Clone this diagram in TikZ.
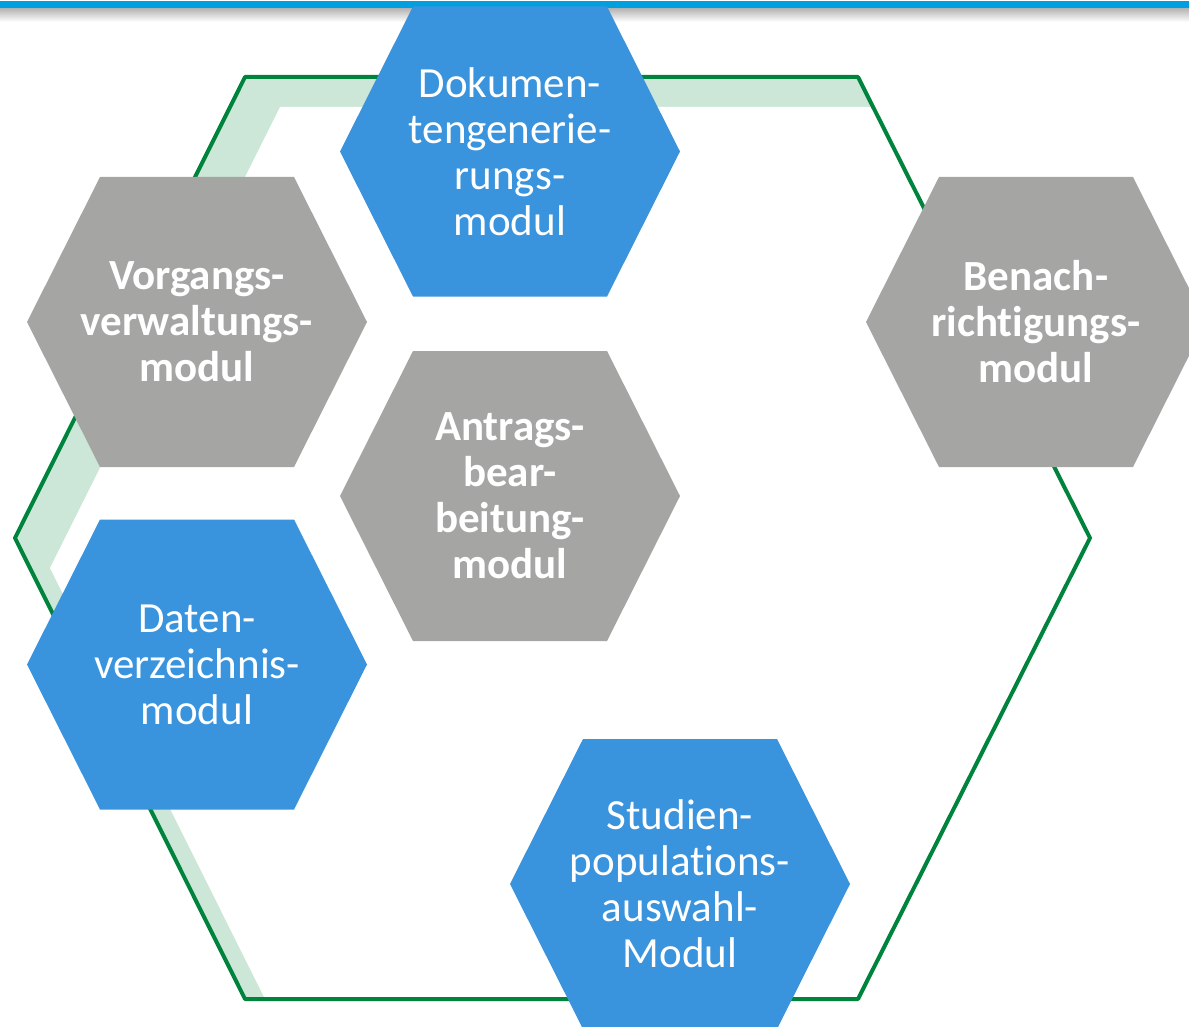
\documentclass[tikz,border=0pt]{standalone}
\usepackage{fontspec}
\setmainfont{Carlito}[Ligatures=CommonOff]
\definecolor{modblue}{RGB}{57,147,221}
\definecolor{modgray}{RGB}{165,166,164}
\definecolor{ringgreen}{RGB}{0,132,61}
\definecolor{ringshade}{RGB}{204,230,215}
\definecolor{barblue}{RGB}{0,159,223}

\begin{document}
\begin{tikzpicture}[x=1pt, y=-1pt,
		modtext/.style={text=white, align=center, font=\fontsize{43}{46}\selectfont},
		boldtext/.style={text=white, align=center, font=\fontsize{43}{46}\selectfont\bfseries}]
			\useasboundingbox (0,0) rectangle (1189,1027);
			\begin{scope}
			\clip (0,0) rectangle (1189,1027);
			% Top bar
			\foreach \i [evaluate=\i as \op using 0.3*(1-\i/14)] in {0,...,13} {
				\fill[black, fill opacity=\op] (0,8+\i) rectangle (1189,9+\i);
			}
			\fill[barblue] (0,1.5) rectangle (1189,8);
			% Ring
			\coordinate (r1) at (245,77);
			\coordinate (r2) at (858,77);
			\coordinate (r3) at (1090,538);
			\coordinate (r4) at (858,999);
			\coordinate (r5) at (245,999);
			\coordinate (r6) at (15,538);
			\begin{scope}
				\clip (r1) -- (r2) -- (r3) -- (r4) -- (r5) -- (r6) -- cycle;
				\fill[ringshade] (r1) -- (r2) -- (r3) -- (r4) -- (r5) -- (r6) -- cycle;
				\fill[white] (280,107) -- (893,107) -- (1125,568) -- (893,1029) -- (280,1029) -- (50,568) -- cycle;
			\end{scope}
			\draw[ringgreen, line width=4pt, line join=round] (r1) -- (r2) -- (r3) -- (r4) -- (r5) -- (r6) -- cycle;
			% Nodes
			\foreach \cx/\cy/\col/\nm/\sty/\txt in {
				510/151.5/modblue/dokmod/modtext/{Dokumen-\\tengenerie-\\rungs-\\modul},
				197/322/modgray/vormod/boldtext/{Vorgangs-\\verwaltungs-\\modul},
				1036/322/modgray/benmod/boldtext/{Benach-\\richtigungs-\\modul},
				510/496/modgray/antmod/boldtext/{Antrags-\\bear-\\beitung-\\modul},
				197/664.5/modblue/datmod/modtext/{Daten-\\verzeichnis-\\modul},
				680/884/modblue/stumod/modtext/{Studien-\\populations-\\auswahl-\\Modul}} {
				\fill[\col] (\cx-170,\cy) -- (\cx-97,\cy-145) -- (\cx+97,\cy-145) -- (\cx+170,\cy) -- (\cx+97,\cy+145) -- (\cx-97,\cy+145) -- cycle;
				\node[\sty] (\nm) at (\cx,\cy) {\txt};
			}
			\end{scope}
		\end{tikzpicture}
\end{document}
